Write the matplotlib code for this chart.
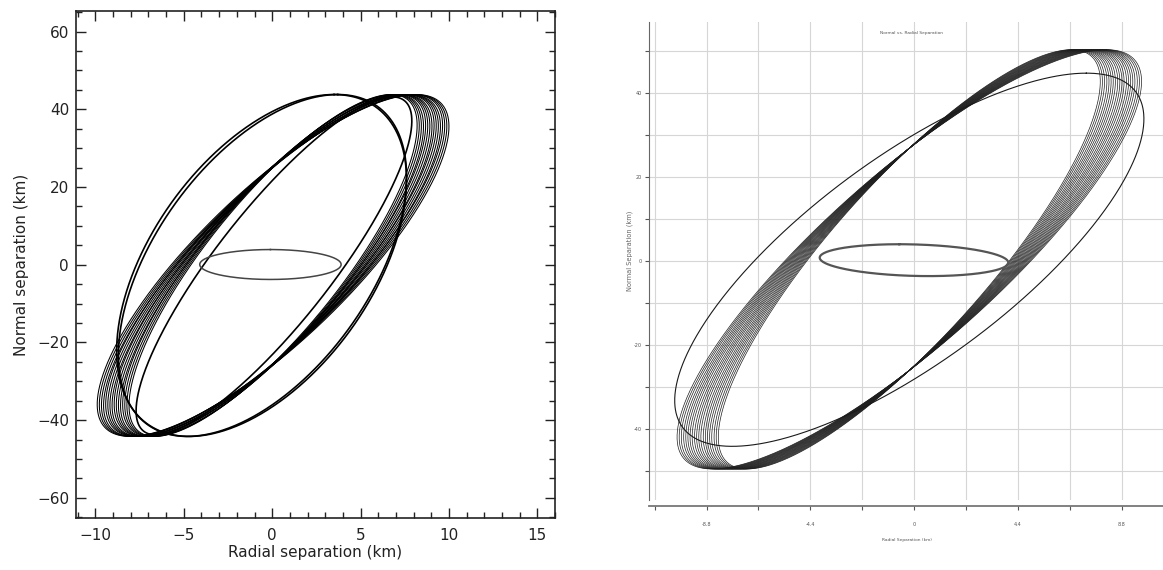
#!/usr/bin/env python3
"""
Normal vs. radial separation, two versions side by side
(left: old IDL style plot, right: newer tool output)
"""

import numpy as np
import matplotlib
matplotlib.use('Agg')  # no display
import matplotlib.pyplot as plt
from matplotlib.ticker import MultipleLocator, FixedLocator, FuncFormatter

# every orbit loop is x = cx + ax*cos(t + phase), y = cy + ay*cos(t)

# ---- left plot ----
left_band_cx = 0.05
left_band_cy = -0.2
left_band_ay = 44.0
left_band_ax = [8.15, 8.27, 8.39, 8.51, 8.63, 8.75, 8.87, 8.99,
                9.11, 9.23, 9.35, 9.47, 9.59, 9.71, 9.83, 9.95]
left_band_phase = [35.0, 35.2, 35.4, 35.6, 35.0, 35.2, 35.4, 35.6,
                   35.0, 35.2, 35.4, 35.6, 35.0, 35.2, 35.4, 35.6]

# single loops: outer (two close passes) and inner
left_loop_cx = [-0.6, -0.55, 0.1]
left_loop_cy = [-0.2, -0.2, -0.3]
left_loop_ax = [8.2, 8.15, 7.8]
left_loop_ay = [44.0, 44.0, 43.5]
left_loop_phase = [60.0, 58.5, 31.0]

left_small = {'cx': -0.1, 'cy': 0.05, 'ax': 4.0, 'ay': 3.85, 'phase': 90.0}

left_xticks = [-10, -5, 0, 5, 10, 15]
left_yticks = [-60, -40, -20, 0, 20, 40, 60]

# ---- right plot ----
right_band_cx = -0.2
right_band_cy = 0.4
right_band_ay = 50.0
right_band_ax = [8.10, 8.19, 8.28, 8.38, 8.47, 8.56, 8.65, 8.74, 8.84, 8.93,
                 9.02, 9.11, 9.21, 9.30, 9.39, 9.48, 9.57, 9.67, 9.76, 9.85]
right_band_phase = [32.0, 32.0, 32.0, 32.0, 32.0, 32.0, 32.0, 32.0, 32.0, 32.0,
                    32.0, 32.0, 32.0, 32.0, 32.0, 32.0, 32.0, 32.0, 32.0, 32.0]

right_loop = {'cx': -0.2, 'cy': 0.3, 'ax': 9.95, 'ay': 44.5, 'phase': 41.0}
right_small = {'cx': 0.0, 'cy': 0.2, 'ax': 4.0, 'ay': 3.8, 'phase': 99.0}

right_xticks = [-11, -8.8, -6.6, -4.4, -2.2, 0, 2.2, 4.4, 6.6, 8.8, 11]
right_xtick_labels = ['', '-8.8', '', '-4.4', '', '0', '', '4.4', '', '8.8', '']
right_yticks = [-50, -40, -30, -20, -10, 0, 10, 20, 30, 40, 50]
right_ytick_labels = ['', '-40', '', '-20', '', '0', '', '20', '', '40', '']

T = np.linspace(0, 2 * np.pi, 721)


def draw_loop(ax, cx, cy, amp_x, amp_y, phase, **kw):
    """画一个相对运动椭圆"""
    ph = np.deg2rad(phase)
    ax.plot(cx + amp_x * np.cos(T + ph), cy + amp_y * np.cos(T), **kw)


def plot_left(ax):
    for a, ph in zip(left_band_ax, left_band_phase):
        draw_loop(ax, left_band_cx, left_band_cy, a, left_band_ay, ph,
                  color='black', lw=0.75)
    for cx, cy, a, b, ph in zip(left_loop_cx, left_loop_cy, left_loop_ax,
                                left_loop_ay, left_loop_phase):
        draw_loop(ax, cx, cy, a, b, ph, color='black', lw=1.2)
    draw_loop(ax, left_small['cx'], left_small['cy'], left_small['ax'],
              left_small['ay'], left_small['phase'], color='#444444', lw=1.1)

    ax.set_xlim(-11.1, 16.0)
    ax.set_ylim(-65.2, 65.3)
    ax.set_xticks(left_xticks)
    ax.set_yticks(left_yticks)
    ax.xaxis.set_minor_locator(MultipleLocator(1))
    ax.yaxis.set_minor_locator(MultipleLocator(5))
    fmt = FuncFormatter(lambda v, p: f'{v:.0f}'.replace('-', '\u2212'))
    ax.xaxis.set_major_formatter(fmt)
    ax.yaxis.set_major_formatter(fmt)
    ax.tick_params(which='both', direction='in', top=True, right=True,
                   width=1.0, colors='#222222', labelsize=11)
    ax.tick_params(which='major', length=7)
    ax.tick_params(which='minor', length=4)
    ax.tick_params(axis='x', pad=7)
    ax.tick_params(axis='y', pad=5)
    for s in ax.spines.values():
        s.set_linewidth(1.2)
        s.set_color('#222222')
    ax.set_xlabel('Radial separation (km)', fontsize=11, color='#222222', labelpad=2)
    ax.set_ylabel('Normal separation (km)', fontsize=11, color='#222222', labelpad=6)


def plot_right(ax):
    ax.grid(True, color='#d6d6d6', lw=0.8)
    ax.set_axisbelow(True)
    for a, ph in zip(right_band_ax, right_band_phase):
        draw_loop(ax, right_band_cx, right_band_cy, a, right_band_ay, ph,
                  color='#1e1e1e', lw=0.5)
    draw_loop(ax, right_loop['cx'], right_loop['cy'], right_loop['ax'],
              right_loop['ay'], right_loop['phase'], color='#1a1a1a', lw=0.8)
    draw_loop(ax, right_small['cx'], right_small['cy'], right_small['ax'],
              right_small['ay'], right_small['phase'], color='#555555', lw=1.6)

    ax.set_xlim(-11.24, 10.56)
    ax.set_ylim(-57, 57)
    ax.xaxis.set_major_locator(FixedLocator(right_xticks))
    ax.yaxis.set_major_locator(FixedLocator(right_yticks))
    ax.set_xticklabels(right_xtick_labels)
    ax.set_yticklabels(right_ytick_labels)
    ax.tick_params(direction='out', length=3, width=0.8, colors='#555555',
                   labelsize=3.5)
    ax.tick_params(axis='x', pad=9)
    ax.tick_params(axis='y', pad=2)
    ax.spines['top'].set_visible(False)
    ax.spines['right'].set_visible(False)
    ax.spines['left'].set_color('#666666')
    ax.spines['bottom'].set_color('#777777')
    ax.spines['bottom'].set_linewidth(1.3)
    ax.spines['bottom'].set_position(('outward', 4))

    fig = ax.figure
    fig.text(911 / 1163, 1 - 33 / 570, 'Normal vs. Radial Separation',
             fontsize=3.2, color='#555555', ha='center', va='center')
    fig.text(907 / 1163, 1 - 540 / 570, 'Radial Separation (km)',
             fontsize=3.2, color='#555555', ha='center', va='center')
    fig.text(630 / 1163, 1 - 251 / 570, 'Normal Separation (km)',
             fontsize=4.8, color='#666666', ha='center', va='center', rotation=90)


def main():
    fig = plt.figure(figsize=(11.63, 5.70), dpi=100)
    ax1 = fig.add_axes([76 / 1163, 1 - 518 / 570, 479 / 1163, 507 / 570])
    ax2 = fig.add_axes([649 / 1163, 1 - 500 / 570, 514 / 1163, 478 / 570])
    plot_left(ax1)
    plot_right(ax2)
    fig.savefig('out.png', dpi=100)
    plt.close(fig)


if __name__ == '__main__':
    main()
